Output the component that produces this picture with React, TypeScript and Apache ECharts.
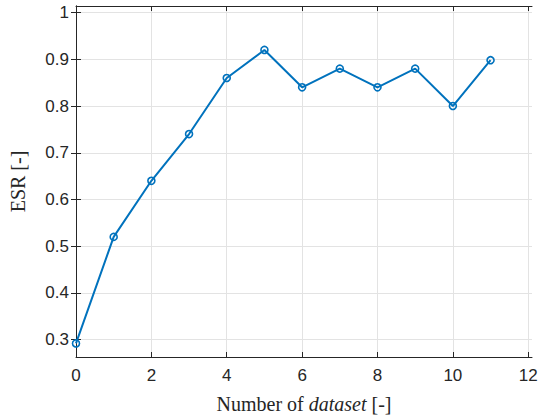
import React, { useEffect, useRef } from "react";
import * as echarts from "echarts";

const datasetIndex = [0, 1, 2, 3, 4, 5, 6, 7, 8, 9, 10, 11];
const esrValues = [0.292, 0.52, 0.64, 0.74, 0.86, 0.92, 0.84, 0.88, 0.84, 0.88, 0.8, 0.898];
const xTicks = [0, 2, 4, 6, 8, 10, 12];
const yTicks = [0.3, 0.4, 0.5, 0.6, 0.7, 0.8, 0.9, 1.0];

const AX = "#262626";
const SANS = "Liberation Sans, Arial, sans-serif";
const SERIF = "Liberation Serif, Times New Roman, serif";

export default function App() {
  const ref = useRef<HTMLDivElement>(null);
  useEffect(() => {
    if (!ref.current) return;
    const chart = echarts.init(ref.current, null, { renderer: "svg" });
    const fmt = (v: number) => String(+Number(v).toFixed(1));
    const baseX = {
      type: "value",
      min: 0,
      max: 12.1,
      axisLine: { show: true, lineStyle: { color: AX, width: 1 } },
      axisTick: { show: true, inside: true, length: 5, lineStyle: { color: AX }, customValues: xTicks },
      splitLine: { show: false },
    };
    const baseY = {
      type: "value",
      min: 0.263,
      max: 1.014,
      axisLine: { show: true, lineStyle: { color: AX, width: 1 } },
      axisTick: { show: true, inside: true, length: 5, lineStyle: { color: AX }, customValues: yTicks },
      splitLine: { show: false },
    };
    chart.setOption({
      animation: false,
      backgroundColor: "#ffffff",
      grid: { left: 76, right: 23, top: 6, bottom: 59, containLabel: false },
      xAxis: [
        {
          ...baseX,
          position: "bottom",
          name: "Number of {i|dataset} [-]",
          nameLocation: "middle",
          nameGap: 37,
          nameTextStyle: {
            fontFamily: SERIF,
            fontSize: 20,
            color: AX,
            rich: { i: { fontFamily: SERIF, fontSize: 20, fontStyle: "italic", color: AX } },
          },
          axisLabel: {
            show: true,
            customValues: xTicks,
            formatter: fmt,
            fontFamily: SANS,
            fontSize: 17,
            color: AX,
            margin: 10,
          },
          splitLine: { show: true, lineStyle: { color: "#e3e3e3", width: 1 } },
        },
        { ...baseX, position: "top", axisLabel: { show: false } },
      ],
      yAxis: [
        {
          ...baseY,
          position: "left",
          name: "ESR [-]",
          nameLocation: "middle",
          nameGap: 48,
          nameTextStyle: { fontFamily: SERIF, fontSize: 20, color: AX },
          axisLabel: {
            show: true,
            customValues: yTicks,
            formatter: fmt,
            fontFamily: SANS,
            fontSize: 17,
            color: AX,
            margin: 7,
          },
          splitLine: { show: true, lineStyle: { color: "#e3e3e3", width: 1 } },
        },
        { ...baseY, position: "right", axisLabel: { show: false } },
      ],
      series: [
        {
          type: "line",
          data: datasetIndex.map((x, i) => [x, esrValues[i]]),
          xAxisIndex: 0,
          yAxisIndex: 0,
          symbol: "circle",
          symbolSize: 7,
          lineStyle: { color: "#0072BD", width: 2 },
          itemStyle: { color: "rgba(0,0,0,0)", borderColor: "#0072BD", borderWidth: 1.6 },
        },
      ],
    });
    return () => chart.dispose();
  }, []);
  return <div ref={ref} style={{ width: 555, height: 419, position: "absolute", left: 0, top: 0 }} />;
}
